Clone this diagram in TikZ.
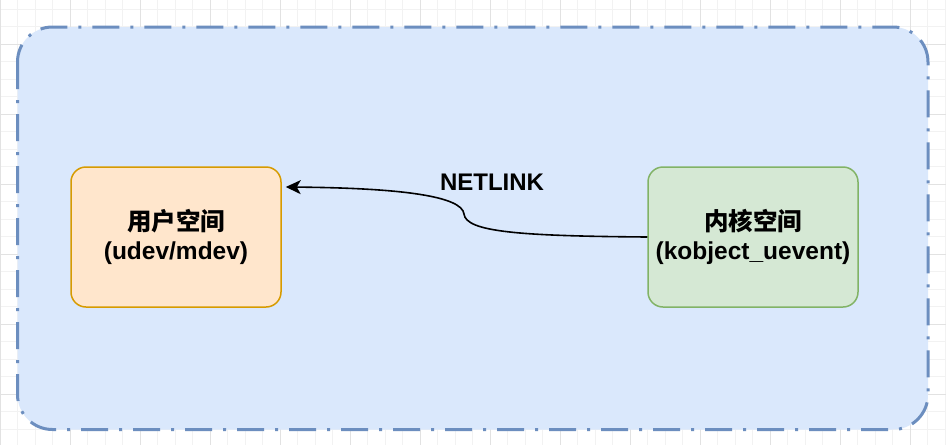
\documentclass[tikz,border=0pt]{standalone}
\usepackage{fontspec}
\setmainfont{Liberation Sans}
\newfontfamily\cjk{Noto Sans CJK SC}
\usetikzlibrary{arrows.meta}
\definecolor{gridminor}{HTML}{F2F2F2}
\definecolor{gridmajor}{HTML}{E2E2E2}
\definecolor{contfill}{HTML}{DAE8FC}
\definecolor{contline}{HTML}{6C8EBF}
\definecolor{orfill}{HTML}{FFE6CC}
\definecolor{orline}{HTML}{D79B00}
\definecolor{grfill}{HTML}{D5E8D4}
\definecolor{grline}{HTML}{82B366}
\tikzset{
  container/.style={draw=contline, fill=contfill, line width=3pt, rounded corners=35pt,
    dash pattern=on 27pt off 11pt on 3pt off 11pt},
  spacebox/.style={rectangle, rounded corners=15pt, line width=1.5pt,
    minimum width=210pt, minimum height=140pt, align=center,
    font=\bfseries\fontsize{24.5}{28.5}\selectfont},
  userbox/.style={spacebox, draw=orline, fill=orfill},
  kernbox/.style={spacebox, draw=grline, fill=grfill},
  flow/.style={draw=black, line width=1.6pt, -{Stealth[length=15pt,width=14pt,inset=4pt]}},
  lbl/.style={font=\bfseries\fontsize{24}{28}\selectfont}
}
\begin{document}
\begin{tikzpicture}[x=1pt,y=-1pt]
\useasboundingbox (0,0) rectangle (946,445);
\fill[white] (0,0) rectangle (946,445);
% grid
\foreach \i in {0,...,54} {
  \draw[gridminor, line width=0.8pt] (17.5*\i,0) -- (17.5*\i,445);
}
\foreach \j in {0,...,25} {
  \draw[gridminor, line width=0.8pt] (0,{9+17.5*\j}) -- (946,{9+17.5*\j});
}
\foreach \i in {0,...,13} {
  \draw[gridmajor, line width=0.8pt] (70*\i,0) -- (70*\i,445);
}
\foreach \j in {0,...,6} {
  \draw[gridmajor, line width=0.8pt] (0,{44+70*\j}) -- (946,{44+70*\j});
}
% container
\draw[container] (17.5,27) rectangle (928,429.5);
% nodes
\node[userbox] (user) at (176,237) {{\cjk 用户空间}\\(udev/mdev)};
\node[kernbox] (kern) at (753,237) {{\cjk 内核空间}\\(kobject\_uevent)};
\node[lbl] (netlink) at (492,182) {NETLINK};
\coordinate (bend) at (464,214);
\coordinate (tip) at ([xshift=4pt,yshift=50pt]user.east);
\draw[flow] (kern.west) .. controls (520,236) and (466,232) .. (bend)
  .. controls (462,196) and (400,188) .. (tip);
\end{tikzpicture}
\end{document}
